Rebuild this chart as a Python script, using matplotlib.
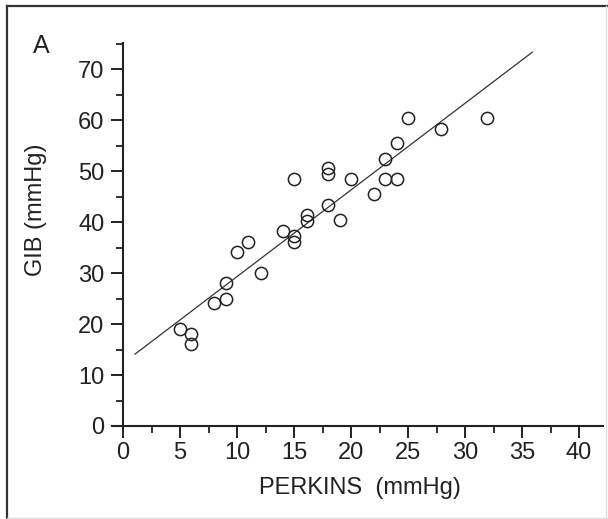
import matplotlib
matplotlib.use("Agg")
import matplotlib.pyplot as plt
from matplotlib.ticker import MultipleLocator
from matplotlib.lines import Line2D

perkins = [5, 6, 6, 8, 9, 9, 10, 11, 12.1, 14, 15, 15, 15, 16.1, 16.1, 18, 18, 18, 19, 20, 22, 23, 23, 24, 24, 25, 27.9, 31.9]
gib = [19.0, 18.0, 16.0, 24.1, 25.0, 28.1, 34.2, 36.2, 30.1, 38.3, 36.2, 37.3, 48.4, 40.2, 41.5, 43.4, 49.4, 50.6, 40.4, 48.4, 45.5, 52.5, 48.5, 48.5, 55.5, 60.4, 58.4, 60.4]
fit_x = [1.05, 35.9]
fit_y = [14.1, 73.4]
x_ticks = [0, 5, 10, 15, 20, 25, 30, 35, 40]
y_ticks = [0, 10, 20, 30, 40, 50, 60, 70]

plt.rcParams['font.family'] = ['Liberation Sans', 'DejaVu Sans']
ink = '#222222'

fig = plt.figure(figsize=(6.08, 5.19), dpi=100)
ax = fig.add_axes([111.6 / 608, (519 - 428) / 519, 491.4 / 608, 385 / 519])
ax.set_xlim(-1, 42.1)
ax.set_ylim(-0.4, 75.2)

ax.plot(fit_x, fit_y, color='#333333', lw=0.9)
ax.plot(perkins, gib, linestyle='none', marker='o', markersize=8.8,
        markerfacecolor='none', markeredgecolor=ink, markeredgewidth=1.1)

for s in ['top', 'right']:
    ax.spines[s].set_visible(False)
ax.spines['left'].set_position(('data', 0))
ax.spines['bottom'].set_position(('data', 0))
for s in ['left', 'bottom']:
    ax.spines[s].set_linewidth(1.5)
    ax.spines[s].set_color(ink)

ax.set_xticks(x_ticks)
ax.set_yticks(y_ticks)
ax.xaxis.set_minor_locator(MultipleLocator(2.5))
ax.yaxis.set_minor_locator(MultipleLocator(5))
ax.tick_params(which='major', direction='out', length=8.5, width=1.4, color=ink,
               labelsize=17, labelcolor=ink)
ax.tick_params(axis='x', which='major', pad=3)
ax.tick_params(axis='y', which='major', pad=5)
ax.tick_params(which='minor', direction='out', length=5, width=1.3, color=ink)

ax.set_xlabel('PERKINS  (mmHg)', fontsize=17, color=ink)
ax.xaxis.set_label_coords((360 - 111.6) / 491.4, (428 - 477) / 385)
ax.set_ylabel('GIB (mmHg)', fontsize=17, color=ink)
ax.yaxis.set_label_coords((47 - 111.6) / 491.4, (428 - 210) / 385)

fig.text(33 / 608, (519 - 53) / 519, 'A', fontsize=18, color=ink, va='baseline', ha='left')

# figure frame
fig.add_artist(Line2D([6.5 / 608, 6.5 / 608], [0, (519 - 6) / 519], transform=fig.transFigure, color='#333333', lw=1.6))
fig.add_artist(Line2D([6.5 / 608, 1], [(519 - 6) / 519, (519 - 6) / 519], transform=fig.transFigure, color='#333333', lw=1.6))
fig.add_artist(Line2D([606 / 608, 606 / 608], [0, (519 - 6) / 519], transform=fig.transFigure, color='#dddddd', lw=1.0))
fig.add_artist(Line2D([6.5 / 608, 1], [1.5 / 519, 1.5 / 519], transform=fig.transFigure, color='#dddddd', lw=1.0))

fig.savefig('out.png', dpi=100)
